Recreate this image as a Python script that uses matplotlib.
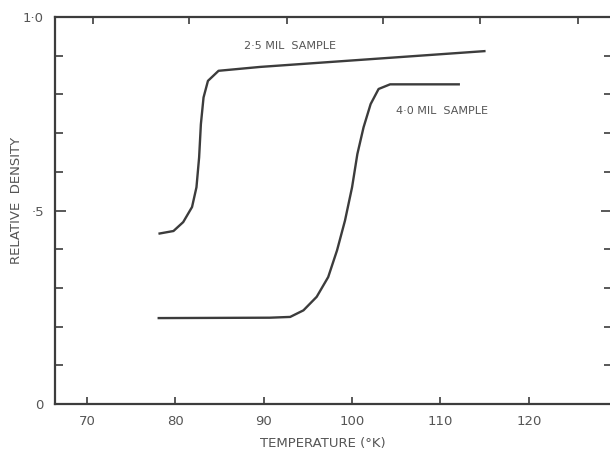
import numpy as np
import matplotlib
matplotlib.use("Agg")
import matplotlib.pyplot as plt

# values
temp_25 = [78.1, 79.8, 80.9, 81.9, 82.4, 82.7, 82.9, 83.2, 83.7, 84.9, 89.6, 115.1]
dens_25 = [0.440, 0.447, 0.470, 0.509, 0.560, 0.637, 0.723, 0.792, 0.835, 0.861, 0.871, 0.912]

temp_40 = [78.0, 90.7, 93.0, 94.5, 96.0, 97.3, 98.3, 99.2, 100.0, 100.6, 101.3, 102.1, 103.0, 104.3, 112.2]
dens_40 = [0.222, 0.223, 0.225, 0.242, 0.277, 0.328, 0.397, 0.474, 0.560, 0.646, 0.715, 0.775, 0.814, 0.826, 0.826]

xticks = [70, 80, 90, 100, 110, 120]
xticklabels = ['70', '80', '90', '100', '110', '120']
yticks = [0, 0.5, 1.0]
yticklabels = ['0', '·5', '1·0']
yminor = [0.1, 0.2, 0.3, 0.4, 0.6, 0.7, 0.8, 0.9]
# ticks along the top edge do not line up with the bottom ones on the scan
top_ticks = [70.7, 81.6, 92.6, 103.5, 114.5, 125.6]

ink = '#3c3c3c'
txt = '#555555'

fig = plt.figure(figsize=(6.10, 4.51), dpi=100)
ax = fig.add_axes([55/610, 47/451, 557/610, 387/451])

ax.plot(temp_25, dens_25, color=ink, lw=1.7, solid_capstyle='butt')
ax.plot(temp_40, dens_40, color=ink, lw=1.7, solid_capstyle='butt')

ax.text(87.8, 0.925, '2·5 MIL  SAMPLE', color=txt, fontsize=8, va='center', ha='left')
ax.text(105.0, 0.757, '4·0 MIL  SAMPLE', color=txt, fontsize=8, va='center', ha='left')

ax.set_xlim(66.4, 129.4)
ax.set_ylim(0, 1.0)

ax.set_xticks(xticks)
ax.set_xticklabels(xticklabels)
ax.set_yticks(yticks)
ax.set_yticklabels(yticklabels)
ax.set_yticks(yminor, minor=True)

ax.tick_params(axis='both', which='major', direction='in', length=5, width=1.2,
               colors=ink, labelcolor=txt, labelsize=9.5, right=True)
ax.tick_params(axis='y', which='major', length=8, pad=8)
ax.tick_params(axis='x', which='major', pad=8)
ax.tick_params(axis='y', which='minor', direction='in', length=6, width=1.2,
               colors=ink, right=True)

top = ax.secondary_xaxis('top')
top.set_xticks(top_ticks)
top.tick_params(direction='in', length=5, width=1.2, colors=ink, labeltop=False)
top.spines['top'].set_visible(False)

for s in ax.spines.values():
    s.set_color(ink)
    s.set_linewidth(1.6)
ax.spines['right'].set_visible(False)

ax.set_xlabel('TEMPERATURE (°K)', color=txt, fontsize=9.5)
ax.set_ylabel('RELATIVE  DENSITY', color=txt, fontsize=9.5)
ax.xaxis.set_label_coords(0.481, -0.085)
ax.yaxis.set_label_coords(-0.057, 0.527)

fig.savefig('out.png', dpi=100)
